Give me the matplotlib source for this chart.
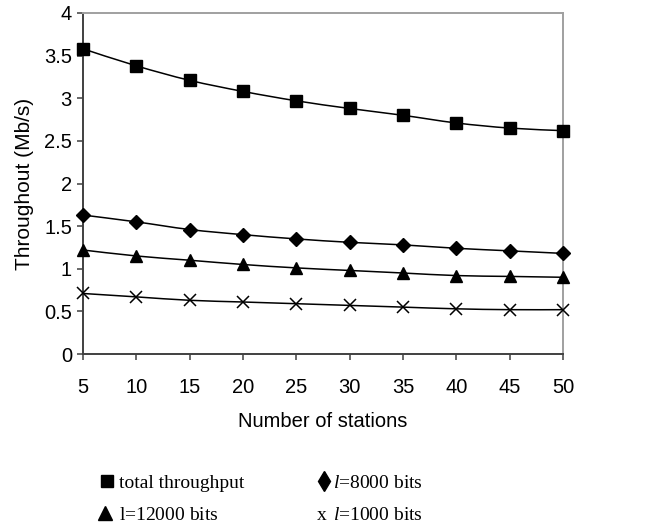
import matplotlib
matplotlib.use("Agg")
import matplotlib.pyplot as plt
import numpy as np
from matplotlib.path import Path
from matplotlib.patches import PathPatch
from matplotlib.lines import Line2D

stations = [5, 10, 15, 20, 25, 30, 35, 40, 45, 50]
total_throughput = [3.58, 3.38, 3.21, 3.08, 2.97, 2.88, 2.80, 2.71, 2.65, 2.62]
l8000 = [1.63, 1.55, 1.46, 1.40, 1.35, 1.31, 1.28, 1.24, 1.21, 1.18]
l12000 = [1.22, 1.15, 1.10, 1.05, 1.01, 0.98, 0.95, 0.92, 0.91, 0.90]
l1000 = [0.71, 0.67, 0.63, 0.61, 0.59, 0.57, 0.55, 0.53, 0.52, 0.52]
y_ticks = [0, 0.5, 1, 1.5, 2, 2.5, 3, 3.5, 4]
y_ticklabels = ["0", "0.5", "1", "1.5", "2", "2.5", "3", "3.5", "4"]

plt.rcParams['mathtext.fontset'] = 'custom'
plt.rcParams['mathtext.rm'] = 'Liberation Serif'
plt.rcParams['mathtext.it'] = 'Liberation Serif:italic'

fig = plt.figure(figsize=(6.53, 5.29), dpi=100)
ax = fig.add_axes([83/653, 1-354/529, (563-83)/653, (354-13)/529])

def smooth_path(xs, ys):
    xs = np.asarray(xs, float); ys = np.asarray(ys, float)
    n = len(xs)
    verts = [(xs[0], ys[0])]
    codes = [Path.MOVETO]
    for i in range(n-1):
        x0, y0 = (xs[i-1], ys[i-1]) if i > 0 else (xs[i], ys[i])
        x3, y3 = (xs[i+2], ys[i+2]) if i+2 < n else (xs[i+1], ys[i+1])
        c1 = (xs[i] + (xs[i+1]-x0)/6, ys[i] + (ys[i+1]-y0)/6)
        c2 = (xs[i+1] - (x3-xs[i])/6, ys[i+1] - (y3-ys[i])/6)
        verts += [c1, c2, (xs[i+1], ys[i+1])]
        codes += [Path.CURVE4]*3
    return Path(verts, codes)

series = [
    (total_throughput, 's', 9),
    (l8000, 'D', 7.5),
    (l12000, '^', 9),
    (l1000, 'x', 9),
]
for ys, mk, ms in series:
    patch = PathPatch(smooth_path(stations, ys), facecolor='none', edgecolor='black',
                      lw=1.1, transform=ax.transData, zorder=2)
    ax.add_patch(patch)
    ax.plot(stations, ys, linestyle='none', marker=mk, markersize=ms, color='black',
            markeredgewidth=1.0 if mk != 'x' else 1.1, zorder=3, clip_on=False)

ax.set_xlim(5, 50)
ax.set_ylim(0, 4)
ax.set_xticks(stations)
ax.set_xticklabels([str(s) for s in stations])
ax.set_yticks(y_ticks)
ax.set_yticklabels(y_ticklabels)

for side in ['left', 'bottom']:
    ax.spines[side].set_color('#404040')
    ax.spines[side].set_linewidth(1.4)
for side in ['top', 'right']:
    ax.spines[side].set_color('#a0a0a0')
    ax.spines[side].set_linewidth(1.4)

fs = 14.5
ax.tick_params(axis='y', direction='out', length=4, width=1.1, color='#404040',
               pad=4, labelsize=fs)
ax.tick_params(axis='x', direction='out', length=4, width=1.1, color='#404040',
               pad=13, labelsize=fs)
for lbl in ax.get_xticklabels() + ax.get_yticklabels():
    lbl.set_fontfamily('Liberation Sans')

ax.set_xlabel('Number of stations', fontsize=fs, family='Liberation Sans', labelpad=11)
ax.set_ylabel('Throughout (Mb/s)', fontsize=15, family='Liberation Sans', labelpad=7)

# legend (manual)
lfs = 14
serif = 'Liberation Serif'
def fx(px): return px/653
def fy(py): return 1 - py/529

row1, row2 = 483, 515
fig.add_artist(Line2D([fx(107)], [fy(row1-2)], marker='s', markersize=9, color='black',
                      linestyle='none', transform=fig.transFigure))
fig.text(fx(119), fy(row1), 'total throughput', fontsize=lfs, family=serif, va='center')
fig.add_artist(Line2D([fx(324)], [fy(row1-2)], marker='d', markersize=10, color='black',
                      linestyle='none', transform=fig.transFigure))
fig.text(fx(333), fy(row1), r'$\it{l}$=8000 bits', fontsize=lfs, family=serif, va='center')
fig.add_artist(Line2D([fx(105)], [fy(row2-2)], marker='^', markersize=10, color='black',
                      linestyle='none', transform=fig.transFigure))
fig.text(fx(119), fy(row2), r'l=$\it{1}$2000 bits', fontsize=lfs, family=serif, va='center')
fig.text(fx(317), fy(row2), 'x', fontsize=lfs, family=serif, va='center')
fig.text(fx(333), fy(row2), r'$\it{l}$=1000 bits', fontsize=lfs, family=serif, va='center')

fig.savefig('out.png', dpi=100)
